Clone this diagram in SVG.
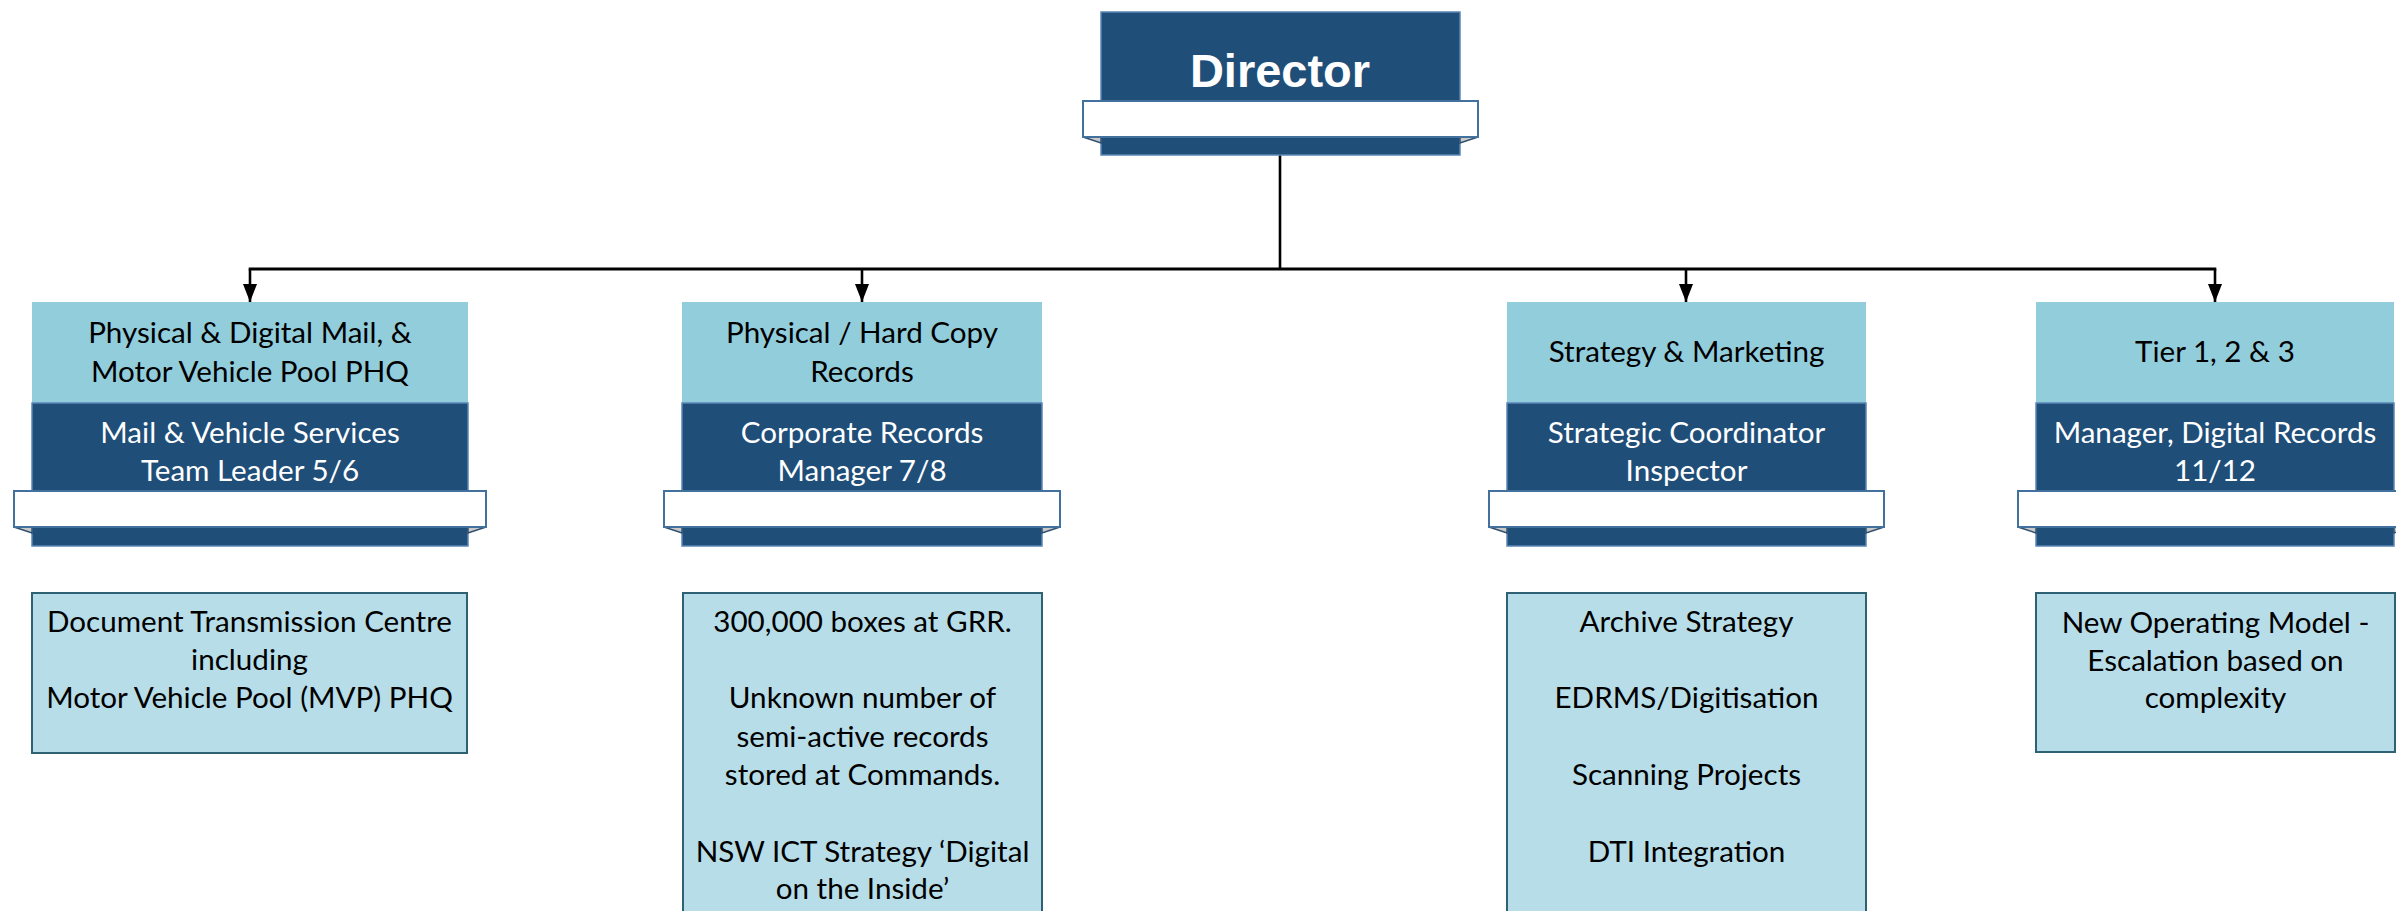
<svg xmlns="http://www.w3.org/2000/svg" width="2396" height="911" viewBox="0 0 2396 911">
<style>
.dark{fill:#1f4e79;stroke:#5b87b5;stroke-width:1.5}
.light{fill:#92cddc;stroke:none}
.banner{fill:#ffffff;stroke:#41719c;stroke-width:2}
.fold{fill:#c9c9c9;stroke:#2f4f6f;stroke-width:1.5}
.info{fill:#b7dde8;stroke:#2f6174;stroke-width:2}
.t{font-family:Lato,"Open Sans","Liberation Sans",sans-serif;font-size:29.6px;text-anchor:middle}
.tw{fill:#ffffff}
.tb{fill:#000000}
.conn{stroke:#000;stroke-width:2.6;fill:none}
</style>
<defs>
<marker id="arr" markerWidth="18" markerHeight="14" refX="18" refY="7" orient="auto" markerUnits="userSpaceOnUse" viewBox="0 0 18 14">
<path d="M0,0 L18,7 L0,14 Z" fill="#000"/>
</marker>
</defs>

<g id="connectors">
<line class="conn" x1="1280" y1="155" x2="1280" y2="269"/>
<line class="conn" x1="248.7" y1="269" x2="2216.3" y2="269" style="stroke-width:3"/>
<path class="conn" d="M250,269 V302" marker-end="url(#arr)"/>
<path class="conn" d="M862,269 V302" marker-end="url(#arr)"/>
<path class="conn" d="M1686,269 V302" marker-end="url(#arr)"/>
<path class="conn" d="M2215,269 V302" marker-end="url(#arr)"/>
</g>

<g id="director">
<rect class="dark" x="1101" y="12" width="359" height="143"/>
<polygon class="fold" points="1083,137 1101,137 1101,143"/>
<polygon class="fold" points="1478,137 1460,137 1460,143"/>
<rect class="banner" x="1083" y="101" width="395" height="36"/>
<text x="1280" y="87" style="font-family:'Liberation Sans',Arial,sans-serif;font-weight:bold;font-size:47px;text-anchor:middle;fill:#fff">Director</text>
</g>

<g id="mail">
<rect class="light" x="32" y="302" width="436" height="101"/>
<rect class="dark" x="32" y="403" width="436" height="143"/>
<polygon class="fold" points="14,527 32,527 32,533"/>
<polygon class="fold" points="486,527 468,527 468,533"/>
<rect class="banner" x="14" y="491" width="472" height="36"/>
<text class="t tb" x="250" y="343">Physical &amp; Digital Mail, &amp;</text>
<text class="t tb" x="250" y="382">Motor Vehicle Pool PHQ</text>
<text class="t tw" x="250" y="443">Mail &amp; Vehicle Services</text>
<text class="t tw" x="250" y="481">Team Leader 5/6</text>
</g>

<g id="records">
<rect class="light" x="682" y="302" width="360" height="101"/>
<rect class="dark" x="682" y="403" width="360" height="143"/>
<polygon class="fold" points="664,527 682,527 682,533"/>
<polygon class="fold" points="1060,527 1042,527 1042,533"/>
<rect class="banner" x="664" y="491" width="396" height="36"/>
<text class="t tb" x="862" y="343">Physical / Hard Copy</text>
<text class="t tb" x="862" y="382">Records</text>
<text class="t tw" x="862" y="443">Corporate Records</text>
<text class="t tw" x="862" y="481">Manager 7/8</text>
</g>

<g id="strategy">
<rect class="light" x="1507" y="302" width="359" height="101"/>
<rect class="dark" x="1507" y="403" width="359" height="143"/>
<polygon class="fold" points="1489,527 1507,527 1507,533"/>
<polygon class="fold" points="1884,527 1866,527 1866,533"/>
<rect class="banner" x="1489" y="491" width="395" height="36"/>
<text class="t tb" x="1686.5" y="362">Strategy &amp; Marketing</text>
<text class="t tw" x="1686.5" y="443">Strategic Coordinator</text>
<text class="t tw" x="1686.5" y="481">Inspector</text>
</g>

<g id="tier">
<rect class="light" x="2036" y="302" width="358" height="101"/>
<rect class="dark" x="2036" y="403" width="358" height="143"/>
<polygon class="fold" points="2018,527 2036,527 2036,533"/>
<polygon class="fold" points="2412,527 2394,527 2394,533"/>
<rect class="banner" x="2018" y="491" width="394" height="36"/>
<text class="t tb" x="2215" y="362">Tier 1, 2 &amp; 3</text>
<text class="t tw" x="2215" y="443">Manager, Digital Records</text>
<text class="t tw" x="2215" y="481">11/12</text>
</g>

<g id="dtc">
<rect class="info" x="32" y="593" width="435" height="160"/>
<text class="t tb" x="249.5" y="632">Document Transmission Centre</text>
<text class="t tb" x="249.5" y="670">including</text>
<text class="t tb" x="249.5" y="708">Motor Vehicle Pool (MVP) PHQ</text>
</g>

<g id="boxes">
<rect class="info" x="683" y="593" width="359" height="330"/>
<text class="t tb" x="862.5" y="632">300,000 boxes at GRR.</text>
<text class="t tb" x="862.5" y="708">Unknown number of</text>
<text class="t tb" x="862.5" y="747">semi-active records</text>
<text class="t tb" x="862.5" y="785">stored at Commands.</text>
<text class="t tb" x="862.5" y="862">NSW ICT Strategy ‘Digital</text>
<text class="t tb" x="862.5" y="899">on the Inside’</text>
</g>

<g id="archive">
<rect class="info" x="1507" y="593" width="359" height="330"/>
<text class="t tb" x="1686.5" y="632">Archive Strategy</text>
<text class="t tb" x="1686.5" y="708">EDRMS/Digitisation</text>
<text class="t tb" x="1686.5" y="785">Scanning Projects</text>
<text class="t tb" x="1686.5" y="862">DTI Integration</text>
</g>

<g id="model">
<rect class="info" x="2036" y="593" width="359" height="159"/>
<text class="t tb" x="2215.5" y="633">New Operating Model -</text>
<text class="t tb" x="2215.5" y="671">Escalation based on</text>
<text class="t tb" x="2215.5" y="708">complexity</text>
</g>
</svg>
